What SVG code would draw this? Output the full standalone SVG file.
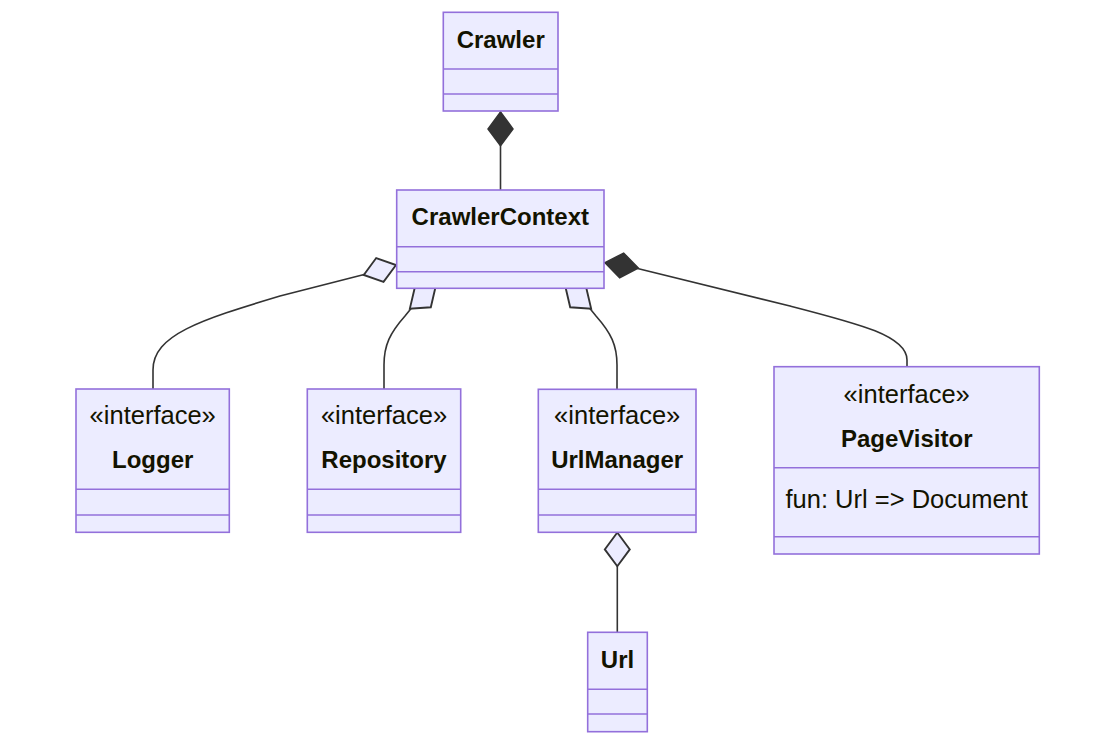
<svg xmlns="http://www.w3.org/2000/svg" width="1116" height="744" viewBox="0 0 1116 744">
<style>
.box{fill:#ECECFF;stroke:#9370DB;stroke-width:1.6}
.div{stroke:#9370DB;stroke-width:1.6}
.edge{fill:none;stroke:#333333;stroke-width:1.6}
.name{font-family:"Liberation Sans",Arial,sans-serif;font-weight:bold;font-size:24px;fill:#131300;text-anchor:middle}
.ster{font-family:"Liberation Sans",Arial,sans-serif;font-size:25.5px;fill:#131300;text-anchor:middle}
.mem{font-family:"Liberation Sans",Arial,sans-serif;font-size:25.5px;fill:#131300;text-anchor:middle}
</style>
<defs>
<marker id="comp" markerUnits="userSpaceOnUse" orient="auto" refX="0" refY="0" markerWidth="40" markerHeight="40" viewBox="-2 -12 32 24" overflow="visible">
<path d="M0,0 L13.5,-10 L27,0 L13.5,10 Z" fill="#333333" stroke="#333333" stroke-width="1.2"/>
</marker>
<marker id="aggr" markerUnits="userSpaceOnUse" orient="auto" refX="0" refY="0" markerWidth="40" markerHeight="40" viewBox="-2 -12 32 24" overflow="visible">
<path d="M0,0 L13.5,-10 L27,0 L13.5,10 Z" fill="#ECECFF" stroke="#333333" stroke-width="1.5"/>
</marker>
</defs>
<rect width="1116" height="744" fill="#ffffff"/>
<g id="connectors">
<path class="edge" marker-start="url(#comp)" d="M500.5,112 L500.5,139 L500.5,190"/>
<path class="edge" marker-start="url(#aggr)" d="M396,265 L370,273 L280,296 C200,320 153,335 153,370 L153,389"/>
<path class="edge" marker-start="url(#aggr)" d="M435.6,286.8 L413.3,305.7 L405,316 C390,333 384,345 384,365 L384,389"/>
<path class="edge" marker-start="url(#aggr)" d="M565.4,286.8 L587.7,305.7 L596,316 C611,333 617,345 617,365 L617,389"/>
<path class="edge" marker-start="url(#comp)" d="M605,262.7 L631.5,267 L790,306 C860,324 907,336 907,360 L907,367"/>
<path class="edge" marker-start="url(#aggr)" d="M617.3,532.5 L617.3,559.5 L617.3,632"/>
</g>
<g id="Crawler">
<rect class="box" x="443.3" y="12.3" width="114.7" height="98.7"/>
<line class="div" x1="443.3" y1="69" x2="558" y2="69"/>
<line class="div" x1="443.3" y1="94" x2="558" y2="94"/>
<text class="name" x="500.7" y="48">Crawler</text>
</g>
<g id="CrawlerContext">
<rect class="box" x="396.7" y="190" width="207.3" height="98.3"/>
<line class="div" x1="396.7" y1="246.7" x2="604" y2="246.7"/>
<line class="div" x1="396.7" y1="271.7" x2="604" y2="271.7"/>
<text class="name" x="500.3" y="224.5">CrawlerContext</text>
</g>
<g id="Logger">
<rect class="box" x="76" y="389" width="153.3" height="143.3"/>
<line class="div" x1="76" y1="489.3" x2="229.3" y2="489.3"/>
<line class="div" x1="76" y1="515" x2="229.3" y2="515"/>
<text class="ster" x="152.7" y="424">«interface»</text>
<text class="name" x="152.7" y="468">Logger</text>
</g>
<g id="Repository">
<rect class="box" x="307.3" y="389" width="153.4" height="143.3"/>
<line class="div" x1="307.3" y1="489.3" x2="460.7" y2="489.3"/>
<line class="div" x1="307.3" y1="515" x2="460.7" y2="515"/>
<text class="ster" x="384" y="424">«interface»</text>
<text class="name" x="384" y="468">Repository</text>
</g>
<g id="UrlManager">
<rect class="box" x="538.3" y="389.3" width="157.7" height="143"/>
<line class="div" x1="538.3" y1="489.3" x2="696" y2="489.3"/>
<line class="div" x1="538.3" y1="515" x2="696" y2="515"/>
<text class="ster" x="617.2" y="424">«interface»</text>
<text class="name" x="617.2" y="467.5">UrlManager</text>
</g>
<g id="PageVisitor">
<rect class="box" x="774" y="366.7" width="265.3" height="187.3"/>
<line class="div" x1="774" y1="467.7" x2="1039.3" y2="467.7"/>
<line class="div" x1="774" y1="536.7" x2="1039.3" y2="536.7"/>
<text class="ster" x="906.7" y="402.7">«interface»</text>
<text class="name" x="906.7" y="446.7">PageVisitor</text>
<text class="mem" x="906.7" y="508.3">fun: Url =&gt; Document</text>
</g>
<g id="Url">
<rect class="box" x="587.7" y="632.3" width="59.6" height="99.4"/>
<line class="div" x1="587.7" y1="689.3" x2="647.3" y2="689.3"/>
<line class="div" x1="587.7" y1="714" x2="647.3" y2="714"/>
<text class="name" x="617.5" y="668">Url</text>
</g>
</svg>
